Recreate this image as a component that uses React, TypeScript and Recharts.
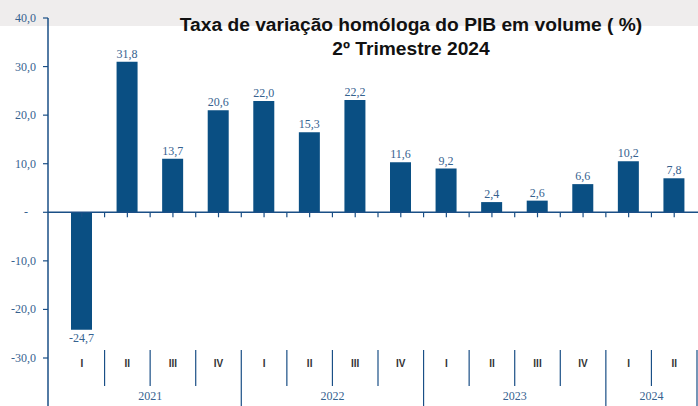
import React from 'react';
import { BarChart, Bar, XAxis, YAxis, ReferenceLine, LabelList } from 'recharts';

// quarters and years along the bottom
const quarters = ['I', 'II', 'III', 'IV', 'I', 'II', 'III', 'IV', 'I', 'II', 'III', 'IV', 'I', 'II'];
const years = ['2021', '2022', '2023', '2024'];
const quartersPerYear = [4, 4, 4, 2];

// bar heights as drawn, and the printed labels above them
const barValues = [-24.2, 31.0, 11.0, 21.0, 22.9, 16.5, 23.1, 10.3, 9.0, 2.1, 2.4, 5.8, 10.5, 7.0];
const valueLabels = ['-24,7', '31,8', '13,7', '20,6', '22,0', '15,3', '22,2', '11,6', '9,2', '2,4', '2,6', '6,6', '10,2', '7,8'];

const yTicks = [-30, -20, -10, 0, 10, 20, 30, 40];

const W = 698;
const H = 406;
const TOP = 18;
const X_AXIS_H = 48;
const Y_AXIS_W = 48;
const PAD_L = 11;
const PAD_R = 1;
const PLOT_H = H - TOP - X_AXIS_H;
const PLOT_BOTTOM = TOP + PLOT_H;
const CW = (W - Y_AXIS_W - PAD_L - PAD_R) / quarters.length;
const ZERO_Y = TOP + (PLOT_H * 40) / 70;

const BLUE = '#0a4f83';
const AXIS = '#1a4f86';
const TEXT_BLUE = '#36628f';

// which index starts / ends each year
const yearStarts: number[] = [];
const yearEnds: number[] = [];
let acc = 0;
quartersPerYear.forEach((n) => {
  yearStarts.push(acc);
  acc += n;
  yearEnds.push(acc - 1);
});

const data = quarters.map((q, i) => ({
  key: `${i}-${q}`,
  v: barValues[i],
  label: valueLabels[i],
}));

const XTick = (props: any) => {
  const x: number = props.x;
  const index: number = props.index ?? props.payload?.index ?? 0;
  const right = Math.min(x + CW / 2, W - 1);
  const left = x - CW / 2;
  const yi = yearStarts.indexOf(index);
  const isEnd = yearEnds.includes(index);
  return (
    <g>
      {index === 0 && (
        <line x1={Y_AXIS_W} x2={Y_AXIS_W} y1={PLOT_BOTTOM} y2={H} stroke={AXIS} strokeWidth={1.5} />
      )}
      {/* small ticks on the zero line */}
      <line x1={x} x2={x} y1={ZERO_Y} y2={ZERO_Y + 5} stroke={AXIS} strokeWidth={1.2} />
      {index < quarters.length - 1 && (
        <line x1={right} x2={right} y1={ZERO_Y} y2={ZERO_Y + 5} stroke={AXIS} strokeWidth={1.2} />
      )}
      <text
        x={x}
        y={367}
        textAnchor="middle"
        fontFamily="Liberation Sans, Arial, sans-serif"
        fontWeight="bold"
        fontSize={10}
        fill="#333"
      >
        {quarters[index]}
      </text>
      <line x1={right} x2={right} y1={350} y2={isEnd ? H : 386} stroke={AXIS} strokeWidth={1.2} />
      {yi >= 0 && (
        <text
          x={left + (quartersPerYear[yi] * CW) / 2}
          y={400}
          textAnchor="middle"
          fontFamily="Liberation Serif, serif"
          fontSize={12}
          fill={TEXT_BLUE}
        >
          {years[yi]}
        </text>
      )}
    </g>
  );
};

const YTick = (props: any) => {
  const { x, y, payload } = props;
  const v: number = payload.value;
  const isZero = v === 0;
  return (
    <text
      x={isZero ? 26 : x}
      y={y}
      dy={4}
      textAnchor={isZero ? 'middle' : 'end'}
      fontFamily="Liberation Serif, serif"
      fontSize={12}
      fill={TEXT_BLUE}
    >
      {isZero ? '-' : v.toFixed(1).replace('.', ',')}
    </text>
  );
};

const BarLabel = (p: any) => {
  const vb = p.viewBox || {};
  const x = p.x ?? vb.x;
  const y = p.y ?? vb.y;
  const w = p.width ?? vb.width;
  const h = p.height ?? vb.height;
  const text = String(p.value);
  const neg = text.startsWith('-');
  const top = Math.min(y, y + h);
  const bottom = Math.max(y, y + h);
  return (
    <text
      x={x + w / 2}
      y={neg ? bottom + 12 : top - 4}
      textAnchor="middle"
      fontFamily="Liberation Serif, serif"
      fontSize={12}
      fill={TEXT_BLUE}
    >
      {text}
    </text>
  );
};

const App: React.FC = () => {
  return (
    <div style={{ position: 'absolute', left: 0, top: 0, width: W, height: H, background: '#fff' }}>
      <div style={{ position: 'absolute', left: 0, top: 0, width: W, height: 26, background: '#efeded' }} />
      <div style={{ position: 'absolute', left: 0, top: 0 }}>
        <BarChart width={W} height={H} data={data} margin={{ top: TOP, right: 0, bottom: 0, left: 0 }} barSize={21}>
          <XAxis
            dataKey="key"
            height={X_AXIS_H}
            interval={0}
            axisLine={false}
            tickLine={false}
            padding={{ left: PAD_L, right: PAD_R }}
            tick={<XTick />}
          />
          <YAxis
            width={Y_AXIS_W}
            domain={[-30, 40]}
            ticks={yTicks}
            interval={0}
            tickSize={5}
            tickMargin={7}
            axisLine={{ stroke: AXIS, strokeWidth: 1.5 }}
            tickLine={{ stroke: AXIS, strokeWidth: 1.2 }}
            tick={<YTick />}
          />
          <ReferenceLine y={0} stroke={AXIS} strokeWidth={1.5} />
          <Bar dataKey="v" fill={BLUE} isAnimationActive={false}>
            <LabelList dataKey="label" content={<BarLabel />} />
          </Bar>
        </BarChart>
      </div>
      <svg
        width={W}
        height={60}
        style={{ position: 'absolute', left: 0, top: 0, pointerEvents: 'none' }}
      >
        <text
          x={411}
          y={30.5}
          textAnchor="middle"
          fontFamily="Liberation Sans, Arial, sans-serif"
          fontWeight="bold"
          fontSize={19.2}
          fill="#111"
        >
          Taxa de variação homóloga do PIB em volume ( %)
        </text>
        <text
          x={411}
          y={54.5}
          textAnchor="middle"
          fontFamily="Liberation Sans, Arial, sans-serif"
          fontWeight="bold"
          fontSize={19.2}
          fill="#111"
        >
          2º Trimestre 2024
        </text>
      </svg>
    </div>
  );
};

export default App;
